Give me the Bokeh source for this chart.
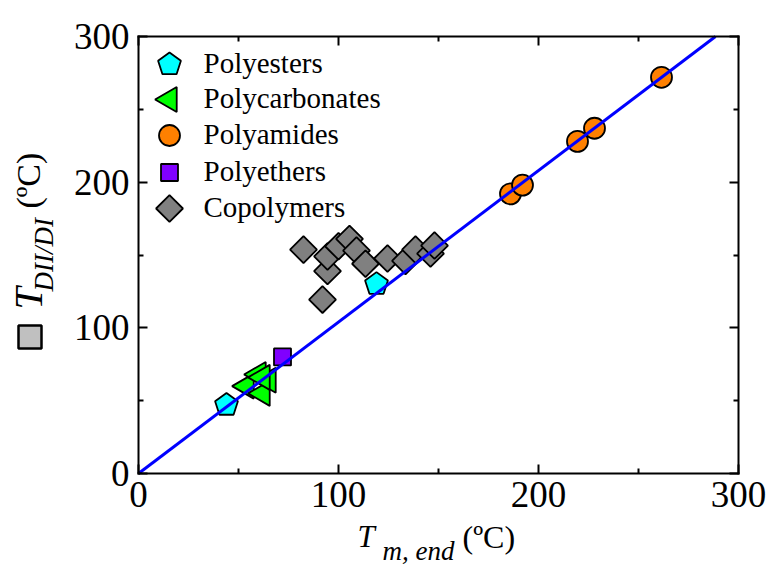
import math
from bokeh.plotting import figure
from bokeh.models import Range1d, FixedTicker, LinearAxis, Label, BoxAnnotation
from bokeh.embed import file_html
from bokeh.resources import INLINE

# ---- data ----
polyester_x = [44, 119]
polyester_y = [47, 130]
polycarb_x = [54, 60, 62, 65, 62]
polycarb_y = [60, 68, 55, 64, 66]
polyamide_x = [186, 192, 219.5, 228, 261.5]
polyamide_y = [192, 198, 228, 237, 272]
polyether_x = [72]
polyether_y = [80]
copoly_x = [82.5, 92, 94.5, 94.5, 100, 105.5, 109, 113.5, 124.5, 133.5, 138.5, 146, 148]
copoly_y = [153.7, 119.4, 139, 149, 156, 161, 153, 144, 147.6, 146, 153.7, 151, 156.5]
fit_x = [0, 288.5]
fit_y = [0, 300]
ticks = [0, 100, 200, 300]
minor = [50, 150, 250]
axis_min, axis_max = 0, 300
legend_names = ["Polyesters", "Polycarbonates", "Polyamides", "Polyethers", "Copolymers"]

# ---- layout: the plot box occupies pixels L..W-R, T..H-B of the canvas ----
W, H = 768, 566
L, R, T, B = 138, 30, 36, 93
FW, FH = W - L - R, H - T - B
FONT = "Liberation Serif"
SX = (axis_max - axis_min) / FW
SY = (axis_max - axis_min) / FH


def dx(px):
    return axis_min + (px - L) * SX


def dy(py):
    return axis_min + (H - B - py) * SY


p = figure(width=W, height=H,
           x_range=Range1d(dx(0), dx(W)), y_range=Range1d(dy(H), dy(0)),
           x_axis_location=None, y_axis_location=None,
           output_backend="svg", toolbar_location=None,
           min_border_left=0, min_border_right=0, min_border_top=0, min_border_bottom=0)
p.grid.visible = False
p.outline_line_color = None
p.background_fill_color = "white"
p.border_fill_color = "white"

axes = []
for side, loc in [("below", axis_min), ("above", axis_max)]:
    ax = LinearAxis(fixed_location=loc, bounds=(axis_min, axis_max))
    p.add_layout(ax, side)
    axes.append((side, ax))
for side, loc in [("left", axis_min), ("right", axis_max)]:
    ax = LinearAxis(fixed_location=loc, bounds=(axis_min, axis_max))
    p.add_layout(ax, side)
    axes.append((side, ax))

for side, ax in axes:
    ax.ticker = FixedTicker(ticks=ticks, minor_ticks=minor)
    ax.major_tick_in = 9
    ax.major_tick_out = 0
    ax.minor_tick_in = 5
    ax.minor_tick_out = 0
    ax.axis_line_width = 2
    ax.axis_line_cap = "square"
    ax.major_tick_line_width = 2
    ax.minor_tick_line_width = 2
    ax.major_label_text_font = FONT
    ax.major_label_text_font_size = "37px"
    ax.major_label_text_color = "black"
    ax.axis_label = None
    if side in ("above", "right"):
        ax.major_label_text_alpha = 0
    elif side == "below":
        ax.major_label_standoff = 8
    else:
        ax.major_label_standoff = 9


def pentagon(cx, cy, r):
    xs, ys = [], []
    for k in range(5):
        a = math.pi / 2 + 2 * math.pi * k / 5
        xs.append(cx + r * math.cos(a) * SX)
        ys.append(cy + r * math.sin(a) * SY)
    return xs, ys


OUT = dict(line_color="black", line_width=1.8)

# copolymers (diamonds)
p.scatter(copoly_x, copoly_y, marker="square", angle=math.pi / 4, size=19,
          fill_color="#808080", **OUT)
# polycarbonates (left triangles)
p.scatter(polycarb_x, polycarb_y, marker="triangle", angle=math.pi / 2, size=25,
          fill_color="#00FF00", **OUT)
# polyesters (pentagons)
pxs, pys = [], []
for cx, cy in zip(polyester_x, polyester_y):
    a, b = pentagon(cx, cy, 12)
    pxs.append(a)
    pys.append(b)
p.patches(pxs, pys, fill_color="#00FFFF", **OUT)
# polyamides
p.scatter(polyamide_x, polyamide_y, marker="circle", size=21, fill_color="#FF8000", **OUT)
# polyethers
p.scatter(polyether_x, polyether_y, marker="square", size=17, fill_color="#8000FF", **OUT)

# fit line
p.line(fit_x, fit_y, line_color="#0000FF", line_width=3)

# ---- manual legend ----
rows_py = [64, 99, 135, 172, 208]
mx, tx = dx(169), dx(203)
lx, ly = pentagon(mx, dy(rows_py[0]), 12)
p.patch(lx, ly, fill_color="#00FFFF", **OUT)
p.scatter([mx], [dy(rows_py[1])], marker="triangle", angle=math.pi / 2, size=25,
          fill_color="#00FF00", **OUT)
p.scatter([mx], [dy(rows_py[2])], marker="circle", size=21, fill_color="#FF8000", **OUT)
p.scatter([mx], [dy(rows_py[3])], marker="square", size=17, fill_color="#8000FF", **OUT)
p.scatter([mx], [dy(rows_py[4])], marker="square", angle=math.pi / 4, size=19,
          fill_color="#808080", **OUT)
for name, ry in zip(legend_names, rows_py):
    p.add_layout(Label(x=tx, y=dy(ry - 2), text=name, text_font=FONT,
                       text_font_size="29px", text_baseline="middle",
                       text_align="left", text_color="black"))

TXT = dict(text_font=FONT, text_baseline="alphabetic", text_align="left", text_color="black")

# ---- x axis title: T_{m, end} (ºC) ----
p.add_layout(Label(x=dx(357), y=dy(536), text="T", text_font_style="italic",
                   text_font_size="31px", **TXT))
p.add_layout(Label(x=dx(382), y=dy(550), text="m, end", text_font_style="italic",
                   text_font_size="27px", **TXT))
p.add_layout(Label(x=dx(462), y=dy(536), text="(ºC)", text_font_size="32px", **TXT))

# ---- y axis title: [] T_{DII/DI} (ºC), rotated ----
p.add_layout(BoxAnnotation(left=dx(18), right=dx(41), bottom=dy(348), top=dy(325),
                           fill_color="#C0C0C0", fill_alpha=1.0,
                           line_color="black", line_width=2.5, line_alpha=1.0))
p.add_layout(Label(x=dx(28), y=dy(309), text="T", text_font_style="italic",
                   text_font_size="40px", angle=math.pi / 2, **TXT))
p.add_layout(Label(x=dx(43), y=dy(291), text="DII/DI", text_font_style="italic",
                   text_font_size="27px", angle=math.pi / 2, **TXT))
p.add_layout(Label(x=dx(28), y=dy(208), text="(ºC)", text_font_size="34px",
                   angle=math.pi / 2, **TXT))

open("out.html", "w").write(file_html(p, INLINE))
